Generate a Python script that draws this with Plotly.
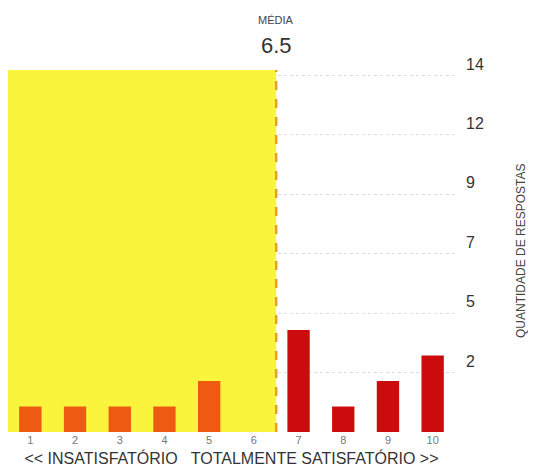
import plotly.graph_objects as go

categories = [1, 2, 3, 4, 5, 6, 7, 8, 9, 10]
responses = [1, 1, 1, 1, 2, 0, 4, 1, 2, 3]
y_tick_values = [14 / 6 * k for k in range(1, 7)]
y_tick_labels = ["2", "5", "7", "9", "12", "14"]
mean_label = "MÉDIA"
x_title = "<< INSATISFATÓRIO   TOTALMENTE SATISFATÓRIO >>"
y_title = "QUANTIDADE DE RESPOSTAS"

mean = sum(c * r for c, r in zip(categories, responses)) / sum(responses)
colors = ["#EE5A12" if c < mean else "#CC0C0C" for c in categories]

fig = go.Figure()
fig.add_trace(go.Bar(x=categories, y=responses, marker=dict(color=colors, line=dict(width=0)),
                     width=0.5, showlegend=False))

fig.add_shape(type="rect", xref="x", yref="y", x0=0.5, x1=mean, y0=0, y1=14.2,
              fillcolor="#FAF53C", line=dict(width=0), layer="between")
fig.add_shape(type="line", xref="x", yref="y", x0=mean, x1=mean, y0=0, y1=14.2,
              line=dict(color="#E8A024", width=2.5, dash="dash"), layer="above")

fig.add_annotation(x=mean, y=1.0, xref="x", yref="paper", yanchor="middle", yshift=50,
                   text=mean_label, showarrow=False, font=dict(size=11, color="#444"))
fig.add_annotation(x=mean, y=1.0, xref="x", yref="paper", yanchor="middle", yshift=25,
                   text=f"{mean:.1f}", showarrow=False, font=dict(size=22, color="#333"))
fig.add_annotation(x=1.0, y=0.5, xref="paper", yref="paper", xanchor="right", xshift=75,
                   textangle=-90, text=y_title, showarrow=False,
                   font=dict(size=12, color="#444"))

fig.update_layout(
    width=536, height=475,
    margin=dict(l=0, r=89, t=62, b=51),
    paper_bgcolor="white", plot_bgcolor="white",
    font=dict(family="Liberation Sans, Arial, sans-serif"),
    bargap=0.5,
)
fig.update_xaxes(range=[0.5, 10.5], tickvals=categories, ticktext=[str(c) for c in categories],
                 showgrid=False, zeroline=False, showline=False, ticks="", automargin=False,
                 tickfont=dict(size=11, color="#777"),
                 title=dict(text=x_title, font=dict(size=16, color="#333"), standoff=7))
fig.update_yaxes(range=[0, 14.2], side="right", tickvals=y_tick_values, ticktext=y_tick_labels,
                 showgrid=True, gridcolor="#DDDDDD", griddash="dot", gridwidth=1,
                 zeroline=False, showline=False, ticks="", automargin=False,
                 ticklabelposition="outside top", ticklabelstandoff=10,
                 tickfont=dict(size=16, color="#333"))

fig.write_html("out.html")
